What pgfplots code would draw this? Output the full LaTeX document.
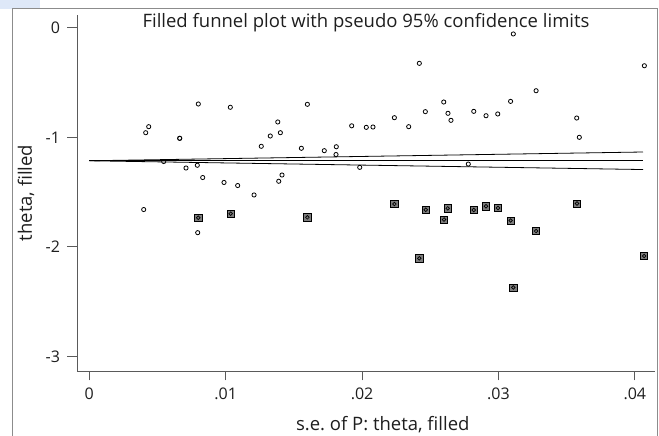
\documentclass[border=0pt]{standalone}
\usepackage{pgfplots}
\pgfplotsset{compat=1.18}
\usepackage{fontspec}
\setmainfont{Open Sans}
\frenchspacing
\definecolor{axisgray}{RGB}{90,90,90}
\definecolor{framegray}{RGB}{140,140,140}
\definecolor{fillgray}{RGB}{125,125,125}
\definecolor{textcol}{RGB}{30,30,30}
\definecolor{corner}{RGB}{222,232,248}
\newcommand\chartfont{\fontsize{16}{19}\selectfont}
\newcommand\labelfont{\fontsize{18.5}{22}\selectfont}

\begin{document}
\begin{tikzpicture}[font=\chartfont]
\useasboundingbox (0,0) rectangle (659pt,436pt);
% bluish corner of the cropped page and the outer graph frame
\fill[corner] (0,427pt) rectangle (40pt,436pt);
\draw[framegray, line width=1pt] (12pt,-5pt) -- (12pt,427pt) -- (657pt,427pt) -- (657pt,-5pt);

\begin{axis}[
  at={(77pt,65pt)}, anchor=south west,
  scale only axis, width=578pt, height=356pt,
  xmin=-0.000902, xmax=0.04148,
  ymin=-3.132, ymax=0.116,
  axis x line*=bottom, axis y line*=left,
  axis line style={axisgray, line width=0.9pt},
  xtick={0,0.01,0.02,0.03,0.04},
  xticklabels={0,.01,.02,.03,.04},
  ytick={-3,-2,-1,0},
  yticklabels={-3,-2,-1,0},
  scaled x ticks=false,
  tick align=outside,
  major tick length=9.5pt,
  tick style={axisgray, line width=0.9pt},
  minor tick num=0,
  xticklabel style={yshift=-4pt, text=textcol},
  yticklabel style={xshift=-4pt, text=textcol},
  every axis title shift=0pt,
  title={Filled funnel plot with pseudo 95\% confidence limits},
  title style={at={(0.5,0.966)}, anchor=base, text=textcol, inner sep=0pt, font=\labelfont},
  xlabel={s.e. of P: theta, filled},
  xlabel style={at={(0.529,-0.1685)}, anchor=base, text=textcol, inner sep=0pt, font=\labelfont},
  ylabel={theta, filled},
  ylabel style={at={(-0.0779,0.5)}, anchor=base, text=textcol, inner sep=0pt, font=\labelfont},
  clip=false,
]

% observed studies
\addplot[only marks, mark=o, mark size=2.1pt,
  mark options={black, fill=white, line width=0.8pt}]
  coordinates {
  (0.004136,-0.958) (0.004356,-0.903) (0.006629,-1.009) (0.006629,-1.009)
  (0.007993,-0.696) (0.01034,-0.726) (0.01382,-0.860) (0.01327,-0.988)
  (0.01401,-0.958) (0.01261,-1.082) (0.01555,-1.100) (0.005456,-1.221)
  (0.007091,-1.280) (0.00792,-1.255) (0.008316,-1.367) (0.009878,-1.412)
  (0.01088,-1.440) (0.01208,-1.526) (0.01389,-1.401) (0.01413,-1.344)
  (0.003989,-1.659) (0.007949,-1.870) (0.01599,-0.699) (0.01723,-1.122)
  (0.01811,-1.086) (0.01809,-1.157) (0.01924,-0.895) (0.02031,-0.909)
  (0.02080,-0.906) (0.02237,-0.821) (0.02342,-0.903) (0.02420,-0.325)
  (0.02464,-0.766) (0.02599,-0.678) (0.02630,-0.781) (0.02652,-0.845)
  (0.02819,-0.763) (0.02909,-0.803) (0.02995,-0.787) (0.03089,-0.672)
  (0.01983,-1.274) (0.02779,-1.244) (0.03109,-0.057) (0.03276,-0.575)
  (0.03574,-0.824) (0.03593,-1.000) (0.04070,-0.347)
  };

% filled (imputed) studies: square with a circle on top
\pgfplotstableread{
x        y
0.00799  -1.734
0.01037  -1.697
0.01599  -1.730
0.02237  -1.609
0.02420  -2.104
0.02467  -1.661
0.02601  -1.750
0.02628  -1.648
0.02819  -1.663
0.02909  -1.629
0.02997  -1.645
0.03089  -1.759
0.03109  -2.370
0.03276  -1.855
0.03576  -1.604
0.04068  -2.083
}\filled
\addplot[only marks, mark=square*, mark size=3.6pt,
  mark options={draw=black, fill=fillgray, line width=0.6pt}] table[x=x,y=y] {\filled};
\addplot[only marks, mark=o, mark size=1.8pt,
  mark options={black, fill=white, line width=0.7pt}] table[x=x,y=y] {\filled};

% pooled estimate and pseudo 95% limits
\addplot[black, line width=0.8pt] coordinates {(0,-1.214) (0.0406,-1.214)};
\addplot[black, line width=0.8pt] coordinates {(0,-1.214) (0.0406,-1.134)};
\addplot[black, line width=0.8pt] coordinates {(0,-1.214) (0.0406,-1.294)};
\end{axis}
\end{tikzpicture}
\end{document}
